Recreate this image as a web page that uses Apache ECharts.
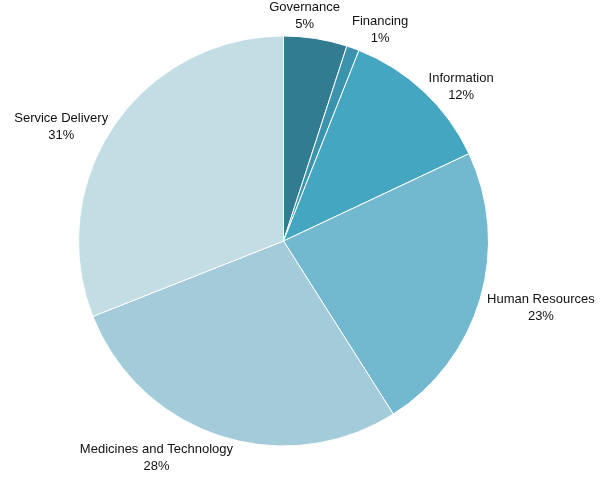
<!DOCTYPE html>
<html><head><meta charset="utf-8">
<script src="https://cdn.jsdelivr.net/npm/echarts@6/dist/echarts.min.js"></script>
<style>html,body{margin:0;padding:0;background:#fff}#c{width:600px;height:477px}</style>
</head><body><div id="c"></div>
<script>
const categories = ['Governance','Financing','Information','Human Resources','Medicines and Technology','Service Delivery'];
const values = [5,1,12,23,28,31];
const colors = ['#327c91','#3b93ad','#45a6c1','#72b8ce','#a3cbda','#c3dde5'];

const CX = 283.5, CY = 241, R = 205, GAP = 7;
const FONT_SIZE = 13, LINE_H = 17, FONT = FONT_SIZE + "px 'Liberation Sans', Arial, sans-serif";

const total = values.reduce((a,b)=>a+b,0);
const cv = document.createElement('canvas').getContext('2d');
cv.font = FONT;
const clamp = (v)=>Math.max(-1,Math.min(1,v));
let cum = 0;
const boxes = values.map((v,i)=>{
  const mid = (cum + v/2)/total*2*Math.PI; cum += v;
  const s = Math.sin(mid), c = Math.cos(mid);
  const lines = [categories[i], Math.round(v/total*100)+'%'];
  const w = Math.max(...lines.map(t=>cv.measureText(t).width));
  const h = LINE_H*2;
  const px = CX + (R+GAP)*s, py = CY - (R+GAP)*c;
  const c4 = Math.pow(Math.abs(c),4);
  return {cx: px + w/2*clamp(2.6*s), cy: py - h/2*Math.sign(c)*c4 + 8*(1-c4), w, h};
});
// simple overlap resolution: push earlier label away from later one horizontally
for (let i=0;i<boxes.length;i++){
  for (let j=i+1;j<boxes.length;j++){
    const a=boxes[i], b=boxes[j];
    const ox = Math.min(a.cx+a.w/2, b.cx+b.w/2) - Math.max(a.cx-a.w/2, b.cx-b.w/2);
    const oy = Math.min(a.cy+a.h/2, b.cy+b.h/2) - Math.max(a.cy-a.h/2, b.cy-b.h/2);
    if (ox>0 && oy>0){
      const shift = ox + 12;
      if (a.cx < b.cx) a.cx -= shift; else a.cx += shift;
    }
  }
}

const chart = echarts.init(document.getElementById('c'), null, {renderer:'canvas'});
chart.setOption({
  animation:false,
  backgroundColor:'#fff',
  series:[{
    type:'pie',
    center:[CX,CY],
    radius:R,
    startAngle:90,
    clockwise:true,
    data: categories.map((n,i)=>({name:n, value:values[i], itemStyle:{color:colors[i]}})),
    itemStyle:{borderColor:'#fff', borderWidth:1},
    label:{show:true, position:'outside', overflow:'none', edgeDistance:0, bleedMargin:0,
      formatter: p => p.name + '\n' + Math.round(p.value/total*100) + '%',
      fontSize:FONT_SIZE, fontFamily:"'Liberation Sans', Arial, sans-serif", color:'#111', lineHeight:LINE_H},
    labelLine:{show:false},
    labelLayout: function(params){
      const b = boxes[params.dataIndex];
      return {x:b.cx, y:b.cy, align:'center', verticalAlign:'middle'};
    },
    emphasis:{disabled:true}
  }]
});
</script></body></html>
